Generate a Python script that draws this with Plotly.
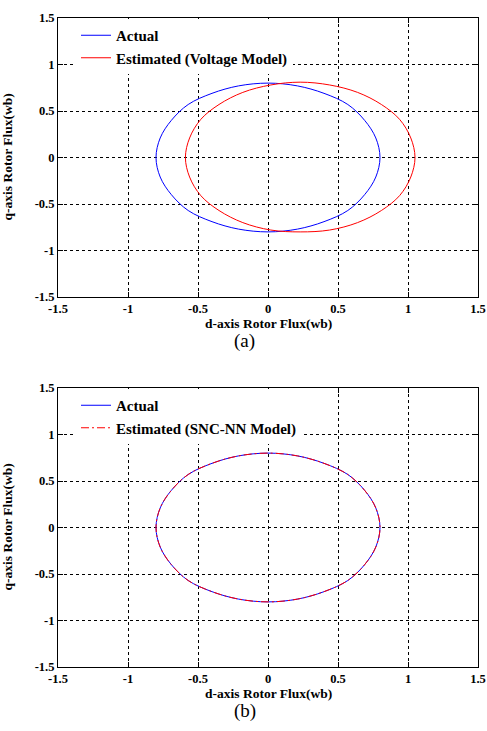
import plotly.graph_objects as go
from plotly.subplots import make_subplots

# Panel (a): actual vs voltage-model estimate
a_actual_x = [0.80, 0.77, 0.69, 0.57, 0.40, 0.21, 0.00, -0.21, -0.40, -0.57, -0.69, -0.77, -0.80,
              -0.77, -0.69, -0.57, -0.40, -0.21, 0.00, 0.21, 0.40, 0.57, 0.69, 0.77, 0.80]
a_actual_y = [0.00, 0.21, 0.40, 0.57, 0.69, 0.77, 0.80, 0.77, 0.69, 0.57, 0.40, 0.21, 0.00,
              -0.21, -0.40, -0.57, -0.69, -0.77, -0.80, -0.77, -0.69, -0.57, -0.40, -0.21, 0.00]
a_est_x = [1.05, 1.02, 0.94, 0.81, 0.64, 0.44, 0.23, 0.02, -0.18, -0.35, -0.48, -0.56, -0.59,
           -0.56, -0.48, -0.35, -0.18, 0.02, 0.23, 0.44, 0.64, 0.81, 0.94, 1.02, 1.05]
a_est_y = [0.00, 0.21, 0.41, 0.57, 0.70, 0.78, 0.81, 0.78, 0.70, 0.57, 0.41, 0.21, 0.00,
           -0.21, -0.41, -0.57, -0.70, -0.78, -0.80, -0.78, -0.70, -0.57, -0.41, -0.21, 0.00]

# Panel (b): actual vs SNC-NN estimate
b_actual_x = [0.80, 0.77, 0.69, 0.57, 0.40, 0.21, 0.00, -0.21, -0.40, -0.57, -0.69, -0.77, -0.80,
              -0.77, -0.69, -0.57, -0.40, -0.21, 0.00, 0.21, 0.40, 0.57, 0.69, 0.77, 0.80]
b_actual_y = [0.00, 0.21, 0.40, 0.57, 0.69, 0.77, 0.80, 0.77, 0.69, 0.57, 0.40, 0.21, 0.00,
              -0.21, -0.40, -0.57, -0.69, -0.77, -0.80, -0.77, -0.69, -0.57, -0.40, -0.21, 0.00]
b_est_x = [0.80, 0.77, 0.69, 0.57, 0.40, 0.21, 0.00, -0.21, -0.40, -0.57, -0.69, -0.77, -0.80,
           -0.77, -0.69, -0.57, -0.40, -0.21, 0.00, 0.21, 0.40, 0.57, 0.69, 0.77, 0.80]
b_est_y = [0.00, 0.21, 0.40, 0.57, 0.69, 0.77, 0.80, 0.77, 0.69, 0.57, 0.40, 0.21, 0.00,
           -0.21, -0.40, -0.57, -0.69, -0.77, -0.80, -0.77, -0.69, -0.57, -0.40, -0.21, 0.00]

tick_vals = [-1.5, -1, -0.5, 0, 0.5, 1, 1.5]
tick_text = ["-1.5", "-1", "-0.5", "0", "0.5", "1", "1.5"]
x_title = "d-axis Rotor Flux(wb)"
y_title = "q-axis Rotor Flux(wb)"
panel_labels = ["(a)", "(b)"]

W, H = 487, 731
SERIF = "Liberation Serif, Times New Roman, serif"

fig = make_subplots(rows=2, cols=1)

fig.add_trace(go.Scatter(x=a_actual_x, y=a_actual_y, mode="lines", name="Actual",
                         line=dict(color="#0000ff", width=1, shape="spline"), legend="legend"), row=1, col=1)
fig.add_trace(go.Scatter(x=a_est_x, y=a_est_y, mode="lines", name="Estimated (Voltage Model)",
                         line=dict(color="#ff0000", width=1, shape="spline"), legend="legend"), row=1, col=1)
fig.add_trace(go.Scatter(x=b_actual_x, y=b_actual_y, mode="lines", name="Actual",
                         line=dict(color="#0000ff", width=1, shape="spline"), legend="legend2"), row=2, col=1)
fig.add_trace(go.Scatter(x=b_est_x, y=b_est_y, mode="lines", name="Estimated (SNC-NN Model)",
                         line=dict(color="#ff0000", width=1, shape="spline", dash="8px,3px,2px,3px"),
                         legend="legend2"), row=2, col=1)

# plot areas in page pixels
PX_L, PX_R = 58, 478
panels = [(18, 297), (388, 667)]

def fy(p):
    return 1 - p / H

axis_common = dict(
    range=[-1.5, 1.5], tickmode="array", tickvals=tick_vals, ticktext=tick_text,
    showgrid=True, gridcolor="black", gridwidth=1, griddash="3px,3px",
    zeroline=False, showline=True, linecolor="black", linewidth=1, mirror="ticks",
    ticks="inside", ticklen=5, tickcolor="black", automargin=False,
    tickfont=dict(family=SERIF, size=12.5, color="black", weight="bold"),
)
fig.update_xaxes(**axis_common, domain=[PX_L / W, PX_R / W])
fig.update_yaxes(**axis_common)
fig.update_layout(
    yaxis=dict(domain=[fy(panels[0][1]), fy(panels[0][0])]),
    yaxis2=dict(domain=[fy(panels[1][1]), fy(panels[1][0])]),
)

title_font = dict(family=SERIF, size=13.5, color="black", weight="bold")
for (top, bot), lab in zip(panels, panel_labels):
    fig.add_annotation(text=x_title, x=(PX_L + PX_R) / 2 / W, y=fy(bot + 26), xref="paper", yref="paper",
                       xanchor="center", yanchor="middle", showarrow=False, font=title_font)
    fig.add_annotation(text=y_title, x=7 / W, y=fy((top + bot) / 2), xref="paper", yref="paper",
                       xanchor="center", yanchor="middle", textangle=-90, showarrow=False, font=title_font)
    fig.add_annotation(text=lab, x=245 / W, y=fy(bot + 44), xref="paper", yref="paper",
                       xanchor="center", yanchor="middle", showarrow=False,
                       font=dict(family=SERIF, size=19, color="black"))

legend_common = dict(
    xref="paper", yref="paper", xanchor="left", yanchor="top",
    bgcolor="white", borderwidth=0, tracegroupgap=0,
    font=dict(family=SERIF, size=15, color="black", weight="bold"),
)
fig.update_layout(
    legend=dict(**legend_common, x=76 / W, y=fy(19)),
    legend2=dict(**legend_common, x=76 / W, y=fy(389)),
)

fig.update_layout(
    width=W, height=H, margin=dict(l=0, r=0, t=0, b=0, autoexpand=False),
    paper_bgcolor="white", plot_bgcolor="white", showlegend=True,
)

fig.write_html("out.html", config={"displayModeBar": False},
               post_script="document.body.style.margin='0';")
